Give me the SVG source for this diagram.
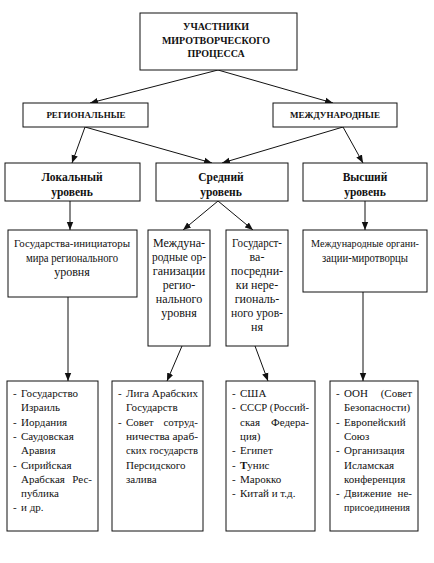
<svg xmlns="http://www.w3.org/2000/svg" width="434" height="563" viewBox="0 0 434 563" font-family="Liberation Serif, serif">
<style>
.box{fill:#fff;stroke:#111;stroke-width:1}
text{fill:#111}
.hd{font-size:10px;font-weight:bold;text-anchor:middle}
.lv{font-size:11.5px;font-weight:bold;text-anchor:middle}
.r3{font-size:12px;text-anchor:middle}
.r4{font-size:11px}
.s{font-size:11px}
.e{text-anchor:end}
.c{stroke:#111;stroke-width:1;fill:none;marker-end:url(#ah)}
</style>
<defs>
<marker id="ah" markerUnits="userSpaceOnUse" markerWidth="8" markerHeight="8" viewBox="0 0 8 8" refX="8" refY="4" orient="auto">
<path d="M0,0.8 L8,4 L0,7.2 Z" fill="#111"/>
</marker>
</defs>
<rect width="434" height="563" fill="#fff"/>
<g id="connectors">
<line class="c" x1="218" y1="70" x2="90" y2="103"/>
<line class="c" x1="218" y1="70" x2="333" y2="103"/>
<line class="c" x1="85" y1="127" x2="72" y2="163"/>
<line class="c" x1="85" y1="127" x2="212" y2="163"/>
<line class="c" x1="343" y1="127" x2="222" y2="163"/>
<line class="c" x1="343" y1="127" x2="363" y2="163"/>
<line class="c" x1="70" y1="201" x2="70" y2="230"/>
<line class="c" x1="218" y1="201" x2="183" y2="230"/>
<line class="c" x1="218" y1="201" x2="253" y2="230"/>
<line class="c" x1="365" y1="201" x2="365" y2="230"/>
<line class="c" x1="68" y1="297" x2="68" y2="381"/>
<line class="c" x1="182" y1="346" x2="167" y2="381"/>
<line class="c" x1="255" y1="346" x2="268" y2="381"/>
<line class="c" x1="363" y1="292" x2="363" y2="381"/>
</g>
<g id="root">
<rect class="box" x="140" y="13" width="157" height="57"/>
<text class="hd" x="216" y="30">УЧАСТНИКИ</text>
<text class="hd" x="216" y="44">МИРОТВОРЧЕСКОГО</text>
<text class="hd" x="216" y="57">ПРОЦЕССА</text>
</g>
<g id="regional">
<rect class="box" x="23" y="103" width="125" height="24"/>
<text class="hd" x="86" y="118" style="font-size:9px">РЕГИОНАЛЬНЫЕ</text>
</g>
<g id="international">
<rect class="box" x="273" y="103" width="124" height="24"/>
<text class="hd" x="335" y="118" style="font-size:9px">МЕЖДУНАРОДНЫЕ</text>
</g>
<g id="local">
<rect class="box" x="5" y="163" width="135" height="38"/>
<text class="lv" x="72" y="181">Локальный</text>
<text class="lv" x="72" y="196">уровень</text>
</g>
<g id="middle">
<rect class="box" x="156" y="163" width="132" height="38"/>
<text class="lv" x="221" y="181">Средний</text>
<text class="lv" x="221" y="196">уровень</text>
</g>
<g id="high">
<rect class="box" x="303" y="163" width="124" height="38"/>
<text class="lv" x="365" y="181">Высший</text>
<text class="lv" x="365" y="196">уровень</text>
</g>
<g id="initiators">
<rect class="box" x="8" y="230" width="129" height="67"/>
<text class="r3 s" x="72" y="247" textLength="116" lengthAdjust="spacingAndGlyphs">Государства-инициаторы</text>
<text class="r3" x="72" y="262" textLength="92" lengthAdjust="spacingAndGlyphs">мира регионального</text>
<text class="r3" x="72" y="276">уровня</text>
</g>
<g id="regorgs">
<rect class="box" x="148" y="230" width="62" height="116"/>
<text class="r3" x="179" y="247">Междуна-</text>
<text class="r3" x="179" y="261" textLength="54" lengthAdjust="spacingAndGlyphs">родные ор-</text>
<text class="r3" x="179" y="275">ганизации</text>
<text class="r3" x="179" y="289">регио-</text>
<text class="r3" x="179" y="303">нального</text>
<text class="r3" x="179" y="317">уровня</text>
</g>
<g id="mediators">
<rect class="box" x="226" y="230" width="62" height="116"/>
<text class="r3" x="257" y="247" textLength="50" lengthAdjust="spacingAndGlyphs">Государст-</text>
<text class="r3" x="257" y="261">ва-</text>
<text class="r3" x="257" y="275">посредни-</text>
<text class="r3" x="257" y="289">ки нере-</text>
<text class="r3" x="257" y="303">гиональ-</text>
<text class="r3" x="257" y="317" textLength="52" lengthAdjust="spacingAndGlyphs">ного уров-</text>
<text class="r3" x="257" y="331">ня</text>
</g>
<g id="peacemakers">
<rect class="box" x="303" y="230" width="124" height="62"/>
<text class="r3 s" x="365" y="247" textLength="108" lengthAdjust="spacingAndGlyphs">Международные органи-</text>
<text class="r3" x="365" y="262" textLength="86" lengthAdjust="spacingAndGlyphs">зации-миротворцы</text>
</g>
<g id="list1">
<rect class="box" x="7" y="381" width="91" height="150"/>
<text class="r4" x="13" y="397">-</text><text class="r4" x="21" y="397">Государство</text>
<text class="r4" x="21" y="411.3">Израиль</text>
<text class="r4" x="13" y="425.6">-</text><text class="r4" x="21" y="425.6">Иордания</text>
<text class="r4" x="13" y="439.9">-</text><text class="r4" x="21" y="439.9">Саудовская</text>
<text class="r4" x="21" y="454.2">Аравия</text>
<text class="r4" x="13" y="468.5">-</text><text class="r4" x="21" y="468.5">Сирийская</text>
<text class="r4" x="21" y="482.8">Арабская</text><text class="r4 e" x="92" y="482.8">Рес-</text>
<text class="r4" x="21" y="497.1">публика</text>
<text class="r4" x="13" y="511.4">-</text><text class="r4" x="21" y="511.4">и др.</text>
</g>
<g id="list2">
<rect class="box" x="112" y="381" width="91" height="150"/>
<text class="r4" x="118" y="397">-</text><text class="r4" x="126" y="397" textLength="72" lengthAdjust="spacingAndGlyphs">Лига Арабских</text>
<text class="r4" x="126" y="411.3">Государств</text>
<text class="r4" x="118" y="425.6">-</text><text class="r4" x="126" y="425.6">Совет</text><text class="r4 e" x="198" y="425.6">сотруд-</text>
<text class="r4" x="126" y="439.9" textLength="72" lengthAdjust="spacingAndGlyphs">ничества араб-</text>
<text class="r4" x="126" y="454.2" textLength="72" lengthAdjust="spacingAndGlyphs">ских государств</text>
<text class="r4" x="126" y="468.5">Персидского</text>
<text class="r4" x="126" y="482.8">залива</text>
</g>
<g id="list3">
<rect class="box" x="226" y="381" width="89" height="150"/>
<text class="r4" x="232" y="397">-</text><text class="r4" x="240" y="397">США</text>
<text class="r4" x="232" y="411.3">-</text><text class="r4" x="240" y="411.3" textLength="69" lengthAdjust="spacingAndGlyphs">СССР (Россий-</text>
<text class="r4" x="240" y="425.6">ская</text><text class="r4 e" x="309" y="425.6">Федера-</text>
<text class="r4" x="240" y="439.9">ция)</text>
<text class="r4" x="232" y="454.2">-</text><text class="r4" x="240" y="454.2">Египет</text>
<text class="r4" x="232" y="468.5">-</text><text class="r4" x="240" y="468.5"><tspan font-weight="bold">Т</tspan>унис</text>
<text class="r4" x="232" y="482.8">-</text><text class="r4" x="240" y="482.8">Марокко</text>
<text class="r4" x="232" y="497.1">-</text><text class="r4" x="240" y="497.1">Китай и т.д.</text>
</g>
<g id="list4">
<rect class="box" x="330" y="381" width="88" height="150"/>
<text class="r4" x="336" y="397">-</text><text class="r4" x="344" y="397">ООН</text><text class="r4 e" x="412" y="397">(Совет</text>
<text class="r4" x="344" y="411.3" textLength="66" lengthAdjust="spacingAndGlyphs">Безопасности)</text>
<text class="r4" x="336" y="425.6">-</text><text class="r4" x="344" y="425.6">Европейский</text>
<text class="r4" x="344" y="439.9">Союз</text>
<text class="r4" x="336" y="454.2">-</text><text class="r4" x="344" y="454.2">Организация</text>
<text class="r4" x="344" y="468.5">Исламская</text>
<text class="r4" x="344" y="482.8">конференция</text>
<text class="r4" x="336" y="497.1">-</text><text class="r4" x="344" y="497.1">Движение</text><text class="r4 e" x="412" y="497.1">не-</text>
<text class="r4" x="344" y="511.4" textLength="66" lengthAdjust="spacingAndGlyphs">присоединения</text>
</g>
</svg>
